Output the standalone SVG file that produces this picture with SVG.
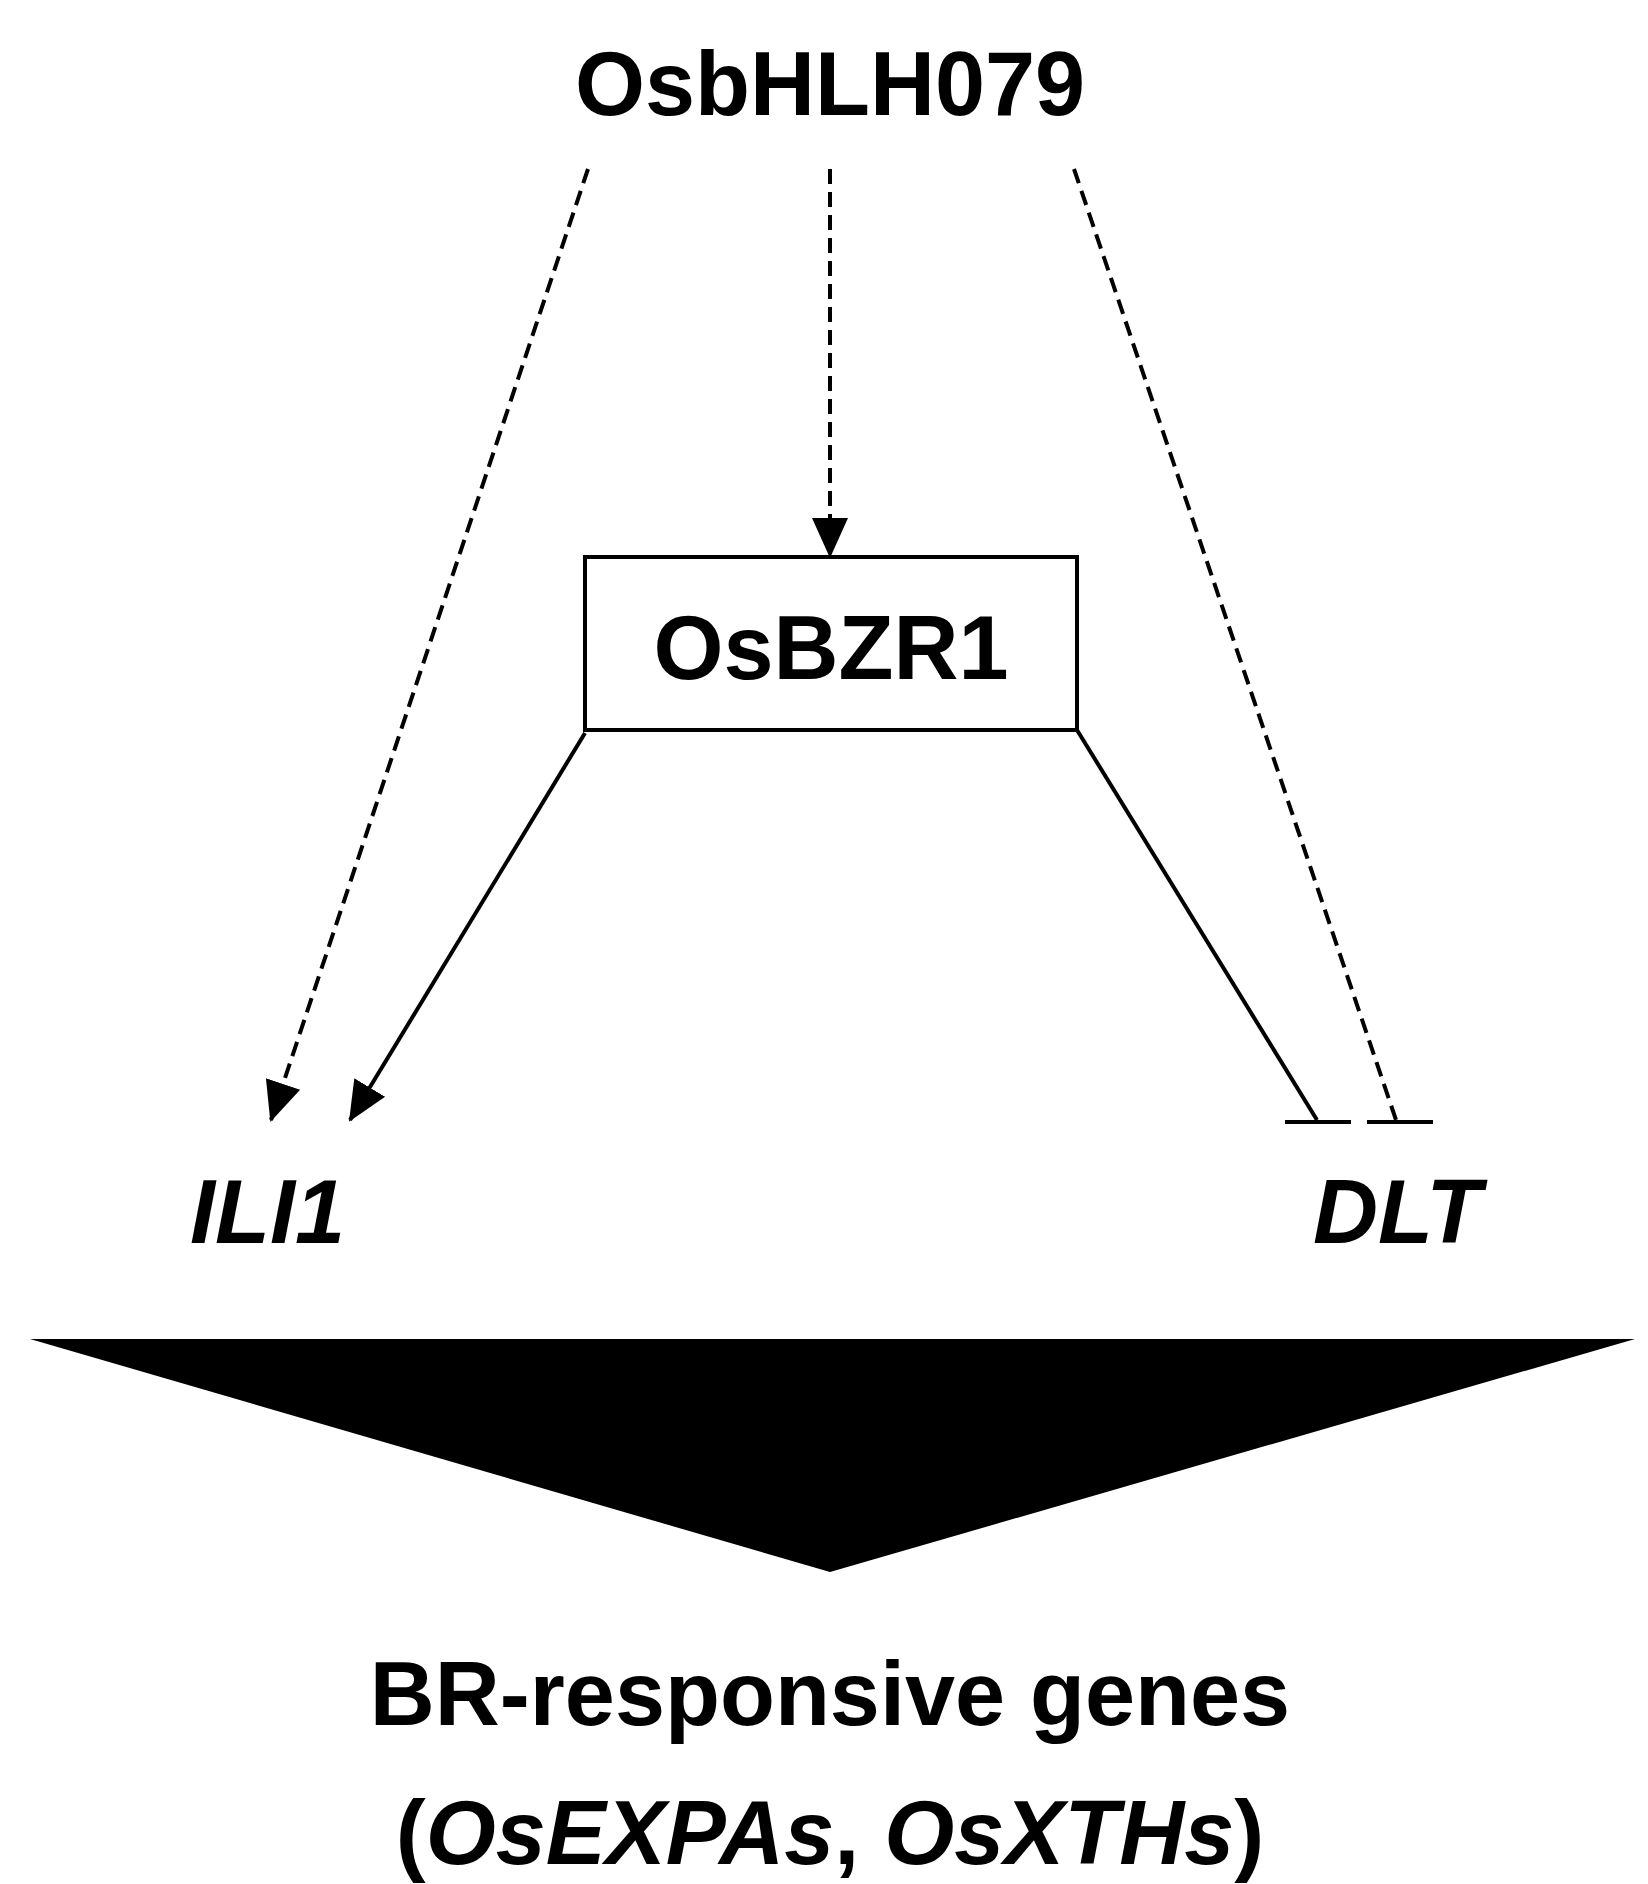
<svg xmlns="http://www.w3.org/2000/svg" width="1648" height="1884" viewBox="0 0 1648 1884">
<defs>
<style>
text{font-family:"Liberation Sans",Arial,sans-serif;font-weight:bold;font-size:90px;fill:#000}
.it{font-style:italic}
.ln{stroke:#000;stroke-width:4;fill:none}
.d{stroke-dasharray:15 8}
</style>
<marker id="ah" markerUnits="userSpaceOnUse" markerWidth="40" markerHeight="40" viewBox="0 0 40 40" refX="38" refY="20" orient="auto">
<path d="M0,2 L40,20 L0,38 Z" fill="#000"/>
</marker>
</defs>
<rect width="1648" height="1884" fill="#fff"/>
<g id="OsbHLH079"><text x="830" y="115" text-anchor="middle">OsbHLH079</text></g>
<g id="OsBZR1"><rect x="585" y="557" width="492" height="173" fill="#fff" stroke="#000" stroke-width="4"/><text x="831" y="679" text-anchor="middle">OsBZR1</text></g>
<g id="ILI1"><text class="it" x="190" y="1243">ILI1</text></g>
<g id="DLT"><text class="it" x="1313" y="1243">DLT</text></g>
<g id="arrow"><polygon points="30,1339 1635,1339 830,1572" fill="#000"/></g>
<g id="BR"><text x="830" y="1725" text-anchor="middle">BR-responsive genes</text>
<text x="830" y="1864" text-anchor="middle">(<tspan class="it">OsEXPAs</tspan>, <tspan class="it">OsXTHs</tspan>)</text></g>
<g id="connectors">
<line class="ln d" x1="588" y1="169" x2="271" y2="1120" marker-end="url(#ah)"/>
<line class="ln d" x1="830" y1="169" x2="830" y2="556" marker-end="url(#ah)"/>
<line class="ln d" x1="1074" y1="169" x2="1396" y2="1120"/>
<line class="ln" x1="1367" y1="1122" x2="1433" y2="1122"/>
<line class="ln" x1="585" y1="733" x2="350" y2="1120" marker-end="url(#ah)"/>
<line class="ln" x1="1077" y1="730" x2="1317" y2="1120"/>
<line class="ln" x1="1285" y1="1122" x2="1351" y2="1122"/>
</g>
</svg>
